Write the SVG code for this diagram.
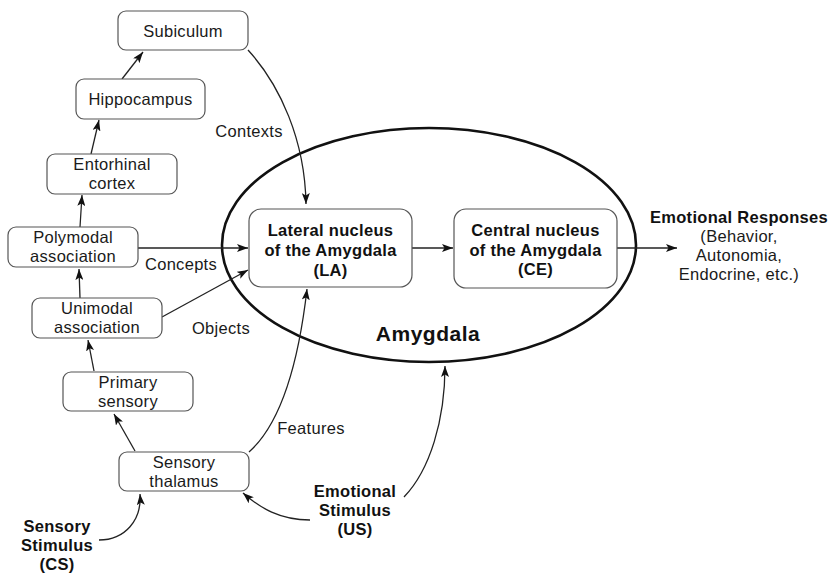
<svg xmlns="http://www.w3.org/2000/svg" width="836" height="574" viewBox="0 0 836 574">
  <defs>
    <marker id="arrow" markerUnits="userSpaceOnUse" markerWidth="12" markerHeight="8" refX="11" refY="4" orient="auto">
      <path d="M0,0 L11,4 L0,8 L2.5,4 z" fill="#111"/>
    </marker>
    <style>
      text { font-family: "Liberation Sans", Arial, sans-serif; fill: #1a1a1a; text-anchor: middle; }
      .lbl { font-size: 16.5px; letter-spacing: 0.3px; }
      .b { font-size: 16.5px; font-weight: bold; fill: #111; letter-spacing: 0.3px; }
      .title { font-size: 21px; font-weight: bold; fill: #111; letter-spacing: 0.5px; }
      .box { fill: #fff; stroke: #555; stroke-width: 1.2; }
      .edge { fill: none; stroke: #222; stroke-width: 1.3; marker-end: url(#arrow); }
      .amyg { fill: none; stroke: #111; stroke-width: 2.6; }
    </style>
  </defs>

  <rect width="836" height="574" fill="#fff"/>

  <!-- Amygdala region -->
  <g id="amygdala">
    <ellipse class="amyg" cx="429" cy="245" rx="207" ry="117"/>
    <text class="title" x="428" y="341">Amygdala</text>
  </g>

  <!-- connectors -->
  <g id="connectors">
    <path class="edge" d="M248,50 C280,85 305,140 306,204"/>
    <path class="edge" d="M122,79 L143,52"/>
    <path class="edge" d="M91,154 L99,120"/>
    <path class="edge" d="M80,227 L82,195"/>
    <path class="edge" d="M138,248 L248,248"/>
    <path class="edge" d="M162,317 L248,270"/>
    <path class="edge" d="M80,298 L79,269"/>
    <path class="edge" d="M94,371 L88,340"/>
    <path class="edge" d="M135,451 L114,414"/>
    <path class="edge" d="M249,452 C285,420 300,350 307,289"/>
    <path class="edge" d="M310,520 C280,520 260,508 243,493"/>
    <path class="edge" d="M404,497 C430,470 445,420 445,366"/>
    <path class="edge" d="M99,540 C125,540 142,520 140,494"/>
    <path class="edge" d="M412,248 L453,248"/>
    <path class="edge" d="M617,248 L677,248"/>
    <text class="lbl" x="249" y="137">Contexts</text>
    <text class="lbl" x="181" y="270">Concepts</text>
    <text class="lbl" x="221" y="334">Objects</text>
    <text class="lbl" x="311" y="434">Features</text>
  </g>

  <g id="subiculum">
    <rect class="box" x="118" y="11" width="130" height="39" rx="8"/>
    <text class="lbl" x="183" y="37">Subiculum</text>
  </g>
  <g id="hippocampus">
    <rect class="box" x="76" y="79" width="129" height="40" rx="8"/>
    <text class="lbl" x="140.5" y="105">Hippocampus</text>
  </g>
  <g id="entorhinal">
    <rect class="box" x="47" y="154" width="130" height="40" rx="8"/>
    <text class="lbl" x="112" y="170">Entorhinal</text>
    <text class="lbl" x="112" y="189">cortex</text>
  </g>
  <g id="polymodal">
    <rect class="box" x="8" y="227" width="130" height="40" rx="8"/>
    <text class="lbl" x="73" y="243">Polymodal</text>
    <text class="lbl" x="73" y="262">association</text>
  </g>
  <g id="unimodal">
    <rect class="box" x="32" y="298" width="130" height="40" rx="8"/>
    <text class="lbl" x="97" y="314">Unimodal</text>
    <text class="lbl" x="97" y="333">association</text>
  </g>
  <g id="primary-sensory">
    <rect class="box" x="63" y="372" width="130" height="39" rx="8"/>
    <text class="lbl" x="128" y="388">Primary</text>
    <text class="lbl" x="128" y="407">sensory</text>
  </g>
  <g id="sensory-thalamus">
    <rect class="box" x="119" y="452" width="130" height="39" rx="8"/>
    <text class="lbl" x="184" y="468">Sensory</text>
    <text class="lbl" x="184" y="487">thalamus</text>
  </g>
  <g id="lateral-nucleus">
    <rect class="box" x="249" y="209" width="163" height="78" rx="12"/>
    <text class="b" x="330.5" y="236">Lateral nucleus</text>
    <text class="b" x="330.5" y="256">of the Amygdala</text>
    <text class="b" x="330.5" y="276">(LA)</text>
  </g>
  <g id="central-nucleus">
    <rect class="box" x="454" y="209" width="163" height="79" rx="12"/>
    <text class="b" x="535.5" y="236">Central nucleus</text>
    <text class="b" x="535.5" y="256">of the Amygdala</text>
    <text class="b" x="535.5" y="275">(CE)</text>
  </g>
  <g id="emotional-responses">
    <text class="b" x="739" y="223">Emotional Responses</text>
    <text class="lbl" x="739" y="242">(Behavior,</text>
    <text class="lbl" x="739" y="261">Autonomia,</text>
    <text class="lbl" x="739" y="280">Endocrine, etc.)</text>
  </g>
  <g id="emotional-stimulus">
    <text class="b" x="355" y="497">Emotional</text>
    <text class="b" x="355" y="516">Stimulus</text>
    <text class="b" x="355" y="535">(US)</text>
  </g>
  <g id="sensory-stimulus">
    <text class="b" x="57" y="532">Sensory</text>
    <text class="b" x="57" y="551">Stimulus</text>
    <text class="b" x="57" y="570">(CS)</text>
  </g>
</svg>
